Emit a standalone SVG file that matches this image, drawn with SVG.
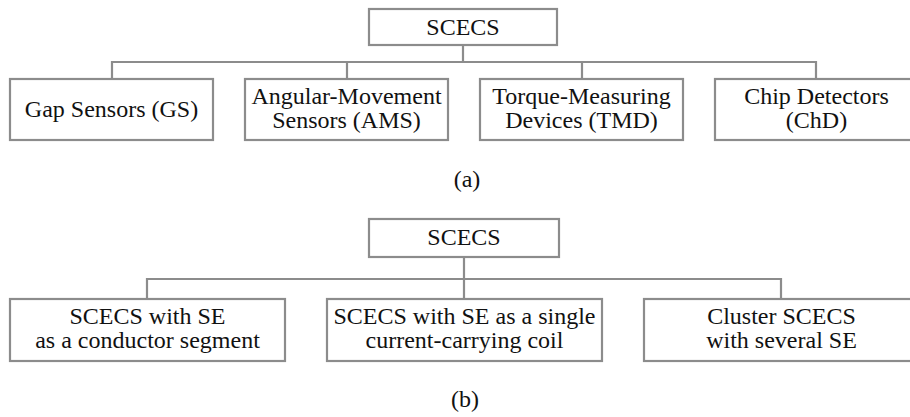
<svg xmlns="http://www.w3.org/2000/svg" width="910" height="417" viewBox="0 0 910 417">
<style>
.box{fill:#fff;stroke:#8c8c8c;stroke-width:2.2}
.ln{fill:none;stroke:#8c8c8c;stroke-width:2.2}
</style>
<rect width="910" height="417" fill="#fff"/>
<g id="connectors">
<path class="ln" d="M463 45V62M112 79V62H816V79M347 62V79M582 62V79"/>
<path class="ln" d="M464 257V299M147 299V279H781V299"/>
</g>
<g id="a-root"><rect class="box" x="369" y="9" width="188" height="36"/><text x="463" y="35" font-family="Liberation Serif" font-size="24" fill="#111" text-anchor="middle">SCECS</text></g>
<g id="a-gs"><rect class="box" x="10" y="79" width="203" height="61"/><text x="111.5" y="117" font-family="Liberation Serif" font-size="24" fill="#111" text-anchor="middle">Gap Sensors (GS)</text></g>
<g id="a-ams"><rect class="box" x="245" y="79" width="203" height="61"/><text x="346.5" y="104" font-family="Liberation Serif" font-size="24" fill="#111" text-anchor="middle">Angular-Movement</text><text x="346.5" y="128" font-family="Liberation Serif" font-size="24" fill="#111" text-anchor="middle">Sensors (AMS)</text></g>
<g id="a-tmd"><rect class="box" x="480" y="79" width="203" height="61"/><text x="581.5" y="104" font-family="Liberation Serif" font-size="24" fill="#111" text-anchor="middle">Torque-Measuring</text><text x="581.5" y="128" font-family="Liberation Serif" font-size="24" fill="#111" text-anchor="middle">Devices (TMD)</text></g>
<g id="a-chd"><rect class="box" x="715" y="79" width="203" height="61"/><text x="816.5" y="104" font-family="Liberation Serif" font-size="24" fill="#111" text-anchor="middle">Chip Detectors</text><text x="816.5" y="128" font-family="Liberation Serif" font-size="24" fill="#111" text-anchor="middle">(ChD)</text></g>
<text x="467" y="187" font-family="Liberation Serif" font-size="24" fill="#111" text-anchor="middle">(a)</text>
<g id="b-root"><rect class="box" x="369" y="219" width="190" height="38"/><text x="464" y="245" font-family="Liberation Serif" font-size="24" fill="#111" text-anchor="middle">SCECS</text></g>
<g id="b-seg"><rect class="box" x="10" y="299" width="275" height="62"/><text x="147.5" y="324" font-family="Liberation Serif" font-size="24" fill="#111" text-anchor="middle">SCECS with SE</text><text x="147.5" y="348" font-family="Liberation Serif" font-size="24" fill="#111" text-anchor="middle">as a conductor segment</text></g>
<g id="b-coil"><rect class="box" x="327" y="299" width="275" height="62"/><text x="464.5" y="324" font-family="Liberation Serif" font-size="24" fill="#111" text-anchor="middle">SCECS with SE as a single</text><text x="464.5" y="348" font-family="Liberation Serif" font-size="24" fill="#111" text-anchor="middle">current-carrying coil</text></g>
<g id="b-cluster"><rect class="box" x="644" y="299" width="275" height="62"/><text x="781.5" y="324" font-family="Liberation Serif" font-size="24" fill="#111" text-anchor="middle">Cluster SCECS</text><text x="781.5" y="348" font-family="Liberation Serif" font-size="24" fill="#111" text-anchor="middle">with several SE</text></g>
<text x="465" y="407" font-family="Liberation Serif" font-size="24" fill="#111" text-anchor="middle">(b)</text>
</svg>
